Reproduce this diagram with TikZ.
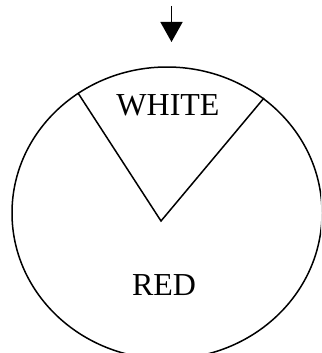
\documentclass[tikz,border=0pt]{standalone}
\usepackage{fontspec}
\setmainfont{Liberation Serif}
\usetikzlibrary{arrows.meta,shapes.geometric}
\begin{document}
\begin{tikzpicture}[x=1pt,y=-1pt,
  outline/.style={draw=black,line width=1.5pt},
  lbl/.style={font=\fontsize{32}{32}\selectfont,inner sep=0pt}]
\useasboundingbox (0,0) rectangle (321,353);
\clip (0,0) rectangle (321,353);
\node[outline,ellipse,minimum width=310pt,minimum height=292pt,inner sep=0pt] (disc) at (167,213) {};
\coordinate (apex) at (161,221);
\coordinate (lefttop) at (78,93);
\coordinate (righttop) at (264,98);
\draw[outline,line join=miter] (lefttop) -- (apex) -- (righttop);
\node[lbl] (white) at (168,105) {WHITE};
\node[lbl] (red) at (164,285) {RED};
\coordinate (arrtop) at (171.5,6);
\coordinate (arrtip) at (171.5,42);
\draw[line width=1.5pt,-{Triangle[width=22pt,length=20pt]}] (arrtop) -- (arrtip);
\end{tikzpicture}
\end{document}
